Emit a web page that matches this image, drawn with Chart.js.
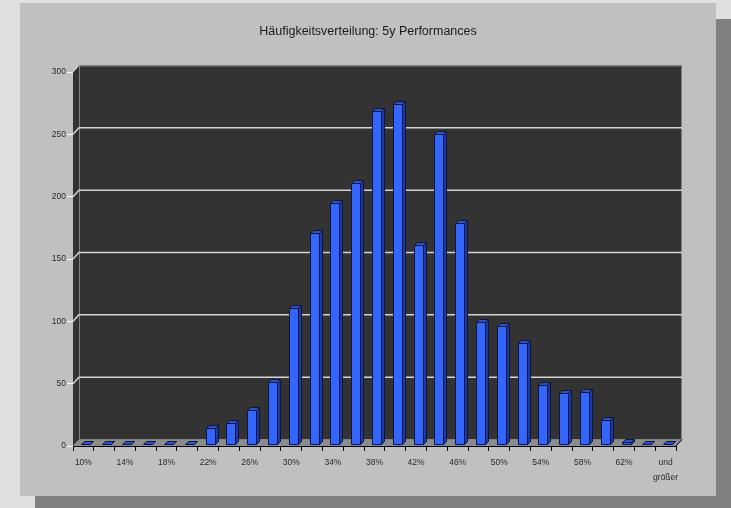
<!DOCTYPE html>
<html>
<head>
<meta charset="utf-8">
<script src="https://cdn.jsdelivr.net/npm/chart.js@4/dist/chart.umd.min.js"></script>
<style>
    body { margin: 0; background: #e0e0e0; width: 731px; height: 508px; overflow: hidden; position: relative; }
    .shadow { position: absolute; left: 35px; top: 19px; width: 696px; height: 489px; background: #808080; }
    .panel { position: absolute; left: 20px; top: 3px; width: 696px; height: 493px; background: #c0c0c0; }
    canvas { position: absolute; left: 0; top: 0; }
</style>
</head>
<body>
<div class="shadow"></div>
<div class="panel"></div>
<canvas id="chart" width="731" height="508"></canvas>
<script>
// Häufigkeitsverteilung
const categories = ['10%','12%','14%','16%','18%','20%','22%','24%','26%','28%','30%','32%','34%','36%','38%','40%',
    '42%','44%','46%','48%','50%','52%','54%','56%','58%','60%','62%','64%',['und','größer']];
const counts = [0,0,0,0,0,0,13,17,27,50,109,169,193,209,267,273,
    160,249,177,98,95,81,47,41,42,19,2,0,0];
const yTicks = [0,50,100,150,200,250,300];

const FONT = "'Liberation Sans Narrow', 'Liberation Sans', Arial, sans-serif";
const DX = 6, DY = -6.5;     // Tiefe der Wand
const BX = 2, BY = -2;       // Lage der Säulen
const SX = 3, SY = -3;       // Tiefe der Säulen

const wall3d = {
    id: 'wall3d',
    beforeDatasetsDraw(chart) {
        const ctx = chart.ctx;
        const a = chart.chartArea;
        const y = chart.scales.y;
        ctx.save();
        // Rückwand
        ctx.fillStyle = '#333333';
        ctx.fillRect(a.left + DX, a.top + DY, a.right - a.left, a.bottom - a.top);
        // Seitenwand
        ctx.beginPath();
        ctx.moveTo(a.left, a.top);
        ctx.lineTo(a.left + DX, a.top + DY);
        ctx.lineTo(a.left + DX, a.bottom + DY);
        ctx.lineTo(a.left, a.bottom);
        ctx.closePath();
        ctx.fill();
        ctx.strokeStyle = '#808080';
        ctx.lineWidth = 1;
        ctx.strokeRect(a.left + DX + 0.5, a.top + DY + 0.5, a.right - a.left - 1, a.bottom - a.top);
        // Gitterlinien
        ctx.strokeStyle = '#d4d4d4';
        ctx.lineWidth = 1.5;
        yTicks.slice(1, -1).forEach(v => {
            const py = y.getPixelForValue(v);
            ctx.beginPath();
            ctx.moveTo(a.left, py);
            ctx.lineTo(a.left + DX, py + DY);
            ctx.lineTo(a.right + DX, py + DY);
            ctx.stroke();
        });
        ctx.lineWidth = 1;
        ctx.beginPath();
        ctx.moveTo(a.left, a.top);
        ctx.lineTo(a.left + DX, a.top + DY);
        ctx.stroke();
        // Boden
        ctx.fillStyle = '#8c8c8c';
        ctx.beginPath();
        ctx.moveTo(a.left, a.bottom);
        ctx.lineTo(a.right, a.bottom);
        ctx.lineTo(a.right + DX, a.bottom + DY);
        ctx.lineTo(a.left + DX, a.bottom + DY);
        ctx.closePath();
        ctx.fill();
        ctx.strokeStyle = '#000';
        ctx.beginPath();
        ctx.moveTo(a.right, a.bottom);
        ctx.lineTo(a.right + DX, a.bottom + DY);
        ctx.stroke();
        ctx.restore();
    },
    afterDatasetsDraw(chart) {
        const ctx = chart.ctx;
        const meta = chart.getDatasetMeta(0);
        ctx.save();
        ctx.lineWidth = 1;
        ctx.strokeStyle = '#0a1640';
        ctx.lineJoin = 'round';
        meta.data.forEach(bar => {
            const p = bar.getProps(['x', 'y', 'base', 'width'], true);
            const l = Math.round(p.x - p.width / 2 + BX) + 0.5;
            const r = l + p.width;
            const t = Math.round(p.y + BY) + 0.5;
            const b = Math.round(p.base + BY) + 0.5;
            // Seite
            ctx.fillStyle = '#1c3aa6';
            ctx.beginPath();
            ctx.moveTo(r, b);
            ctx.lineTo(r + SX, b + SY);
            ctx.lineTo(r + SX, t + SY);
            ctx.lineTo(r, t);
            ctx.closePath();
            ctx.fill();
            ctx.stroke();
            // Deckel
            ctx.fillStyle = '#2a52d6';
            ctx.beginPath();
            ctx.moveTo(l, t);
            ctx.lineTo(l + SX, t + SY);
            ctx.lineTo(r + SX, t + SY);
            ctx.lineTo(r, t);
            ctx.closePath();
            ctx.fill();
            ctx.stroke();
            // Front
            if (b - t > 0) {
                ctx.fillStyle = '#3366ff';
                ctx.fillRect(l, t, p.width, b - t);
                ctx.strokeRect(l, t, p.width, b - t);
            }
        });
        ctx.restore();
    }
};

new Chart(document.getElementById('chart'), {
    type: 'bar',
    data: {
        labels: categories,
        datasets: [{
            data: counts,
            backgroundColor: 'rgba(0,0,0,0)',
            borderWidth: 0,
            barThickness: 9
        }]
    },
    options: {
        responsive: false,
        animation: false,
        devicePixelRatio: 1,
        layout: { padding: { left: 50, right: 45, top: 0, bottom: 0 } },
        plugins: {
            legend: { display: false },
            tooltip: { enabled: false },
            title: {
                display: true,
                text: 'Häufigkeitsverteilung: 5y Performances',
                color: '#1a1a1a',
                font: { family: FONT, size: 12.5, weight: 'normal', lineHeight: 1.2 },
                padding: { top: 24, bottom: 33 }
            }
        },
        scales: {
            x: {
                afterFit(scale) { scale.height = 62; },
                border: { display: true, color: '#000', width: 1 },
                grid: { display: true, drawOnChartArea: false, color: '#000', tickLength: 5, offset: true },
                ticks: {
                    autoSkip: false,
                    maxRotation: 0,
                    padding: 4,
                    color: '#2a2a2a',
                    font: { family: FONT, size: 8.5, lineHeight: 1.75 },
                    callback(value, index) { return index % 2 === 0 ? this.getLabelForValue(value) : ''; }
                }
            },
            y: {
                min: 0,
                max: 300,
                afterFit(scale) { scale.width = 23; },
                border: { display: false },
                grid: { display: true, drawOnChartArea: false, color: '#ffffff', tickLength: 6 },
                ticks: {
                    stepSize: 50,
                    padding: 1,
                    color: '#2a2a2a',
                    font: { family: FONT, size: 8.5 }
                }
            },
            yRight: {
                position: 'right',
                min: 0,
                max: 300,
                afterFit(scale) { scale.width = 10; },
                border: { display: false },
                grid: { display: false },
                ticks: { display: false }
            }
        }
    },
    plugins: [wall3d]
});
</script>
</body>
</html>
